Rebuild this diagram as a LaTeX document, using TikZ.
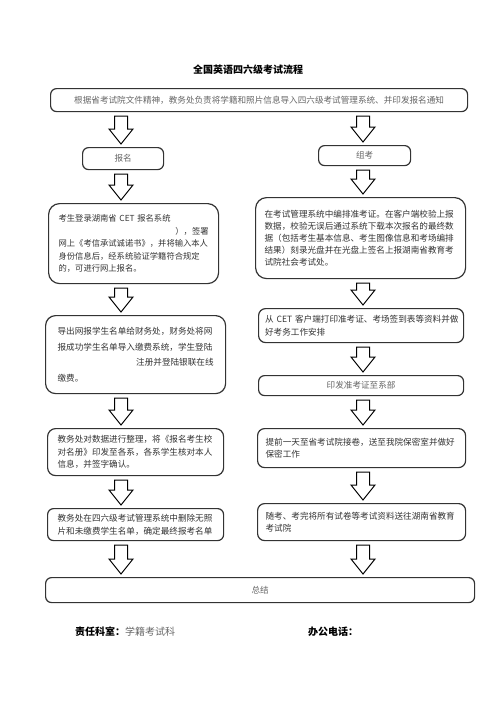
\documentclass[tikz,border=0pt]{standalone}
\usepackage{fontspec}
\setmainfont{Noto Sans CJK SC}
\usetikzlibrary{calc}

\newcommand{\pushright}{\hskip 0pt plus 1fill\relax}
% hollow block arrow: column coordinate, upper node, lower node
\newcommand{\flowarrow}[3]{%
  \draw[flow] let \p0=(#1), \p1=(#2.south), \p2=(#3.north) in
    (\x0-6.5pt,\y1-4pt) -- (\x0+6.5pt,\y1-4pt) -- (\x0+6.5pt,\y2+18pt)
    -- (\x0+12pt,\y2+18pt) -- (\x0,\y2+3pt) -- (\x0-12pt,\y2+18pt)
    -- (\x0-6.5pt,\y2+18pt) -- cycle;}

\begin{document}
\begin{tikzpicture}[
  x=1pt, y=-1pt,
  box/.style={draw=black!80, line width=1.2pt, rounded corners=6pt, fill=white, text=black!80, anchor=north west, inner sep=0pt, align=left, font=\fontsize{8.6}{12.5}\selectfont},
  bigbox/.style={box, rounded corners=11pt},
  labelbox/.style={box, align=center, text=black!60},
  flow/.style={draw=black, line width=1pt, fill=white, line join=miter}
]
\useasboundingbox (0,0) rectangle (496,702);
\coordinate (lcol) at (121,0);
\coordinate (rcol) at (363,0);

\node[font=\bfseries\fontsize{10}{12}\selectfont] (title) at (248,70) {全国英语四六级考试流程};
\node[labelbox, minimum width=417pt, minimum height=23pt] (notice) at (50,88) {根据省考试院文件精神，教务处负责将学籍和照片信息导入四六级考试管理系统、并印发报名通知};

% left column
\node[labelbox, minimum width=81pt, minimum height=22pt] (signup) at (82,147) {报名};
\node[bigbox, text width=150pt, minimum width=170pt, minimum height=80pt, font=\fontsize{8.3}{12.5}\selectfont] (login) at (48,203) {考生登录湖南省~CET~报名系统\\ \pushright ），签署\\ 网上《考信承试诚诺书》，并将输入本人\\ 身份信息后，经系统验证学籍符合规定\\ 的，可进行网上报名。};
\node[box, rounded corners=10pt, text width=156pt, minimum width=180pt, minimum height=78pt, font=\fontsize{8.6}{15.5}\selectfont] (payment) at (45,315) {导出网报学生名单给财务处，财务处将网\\ 报成功学生名单导入缴费系统，学生登陆\\ \pushright 注册并登陆银联在线\\ 缴费。};
\node[box, rounded corners=8pt, text width=156pt, minimum width=176pt, minimum height=47pt] (verify) at (47,428) {教务处对数据进行整理，将《报名考生校\\ 对名册》印发至各系，各系学生核对本人\\ 信息，并签字确认。};
\node[box, text width=156pt, minimum width=176pt, minimum height=32pt] (finalize) at (47,508) {教务处在四六级考试管理系统中删除无照\\ 片和未缴费学生名单，确定最终报考名单};

% right column
\node[labelbox, minimum width=92pt, minimum height=20pt] (organize) at (318,145) {组考};
\node[bigbox, text width=192pt, minimum width=210pt, minimum height=81pt, font=\fontsize{8.6}{12}\selectfont] (arrange) at (255,197) {在考试管理系统中编排准考证。在客户端校验上报\\ 数据，校验无误后通过系统下载本次报名的最终数\\ 据（包括考生基本信息、考生图像信息和考场编排\\ 结果）刻录光盘并在光盘上签名上报湖南省教育考\\ 试院社会考试处。};
\node[box, rounded corners=7pt, text width=192pt, minimum width=205pt, minimum height=34pt] (print) at (258,308) {从~CET~客户端打印准考证、考场签到表等资料并做\\ 好考务工作安排};
\node[labelbox, minimum width=205pt, minimum height=20pt] (issue) at (258,375) {印发准考证至系部};
\node[box, rounded corners=7pt, text width=192pt, minimum width=208pt, minimum height=39pt] (fetch) at (257,428) {提前一天至省考试院接卷，送至我院保密室并做好\\ 保密工作};
\node[box, rounded corners=7pt, text width=192pt, minimum width=208pt, minimum height=37pt] (deliver) at (257,503) {随考、考完将所有试卷等考试资料送往湖南省教育\\ 考试院};

\node[labelbox, minimum width=429pt, minimum height=25pt] (summary) at (45,577) {总结};

\flowarrow{lcol}{notice}{signup}
\flowarrow{lcol}{signup}{login}
\flowarrow{lcol}{login}{payment}
\flowarrow{lcol}{payment}{verify}
\flowarrow{lcol}{verify}{finalize}
\flowarrow{lcol}{finalize}{summary}

\flowarrow{rcol}{notice}{organize}
\flowarrow{rcol}{organize}{arrange}
\flowarrow{rcol}{arrange}{print}
\flowarrow{rcol}{print}{issue}
\flowarrow{rcol}{issue}{fetch}
\flowarrow{rcol}{fetch}{deliver}
\flowarrow{rcol}{deliver}{summary}

% footer
\node[anchor=west, inner sep=0pt, font=\fontsize{10}{12}\selectfont] (dept) at (75,632) {\textbf{责任科室：}\textcolor{black!60}{学籍考试科}};
\node[anchor=west, inner sep=0pt, font=\bfseries\fontsize{10}{12}\selectfont] (phone) at (308,632) {办公电话：};
\end{tikzpicture}
\end{document}
